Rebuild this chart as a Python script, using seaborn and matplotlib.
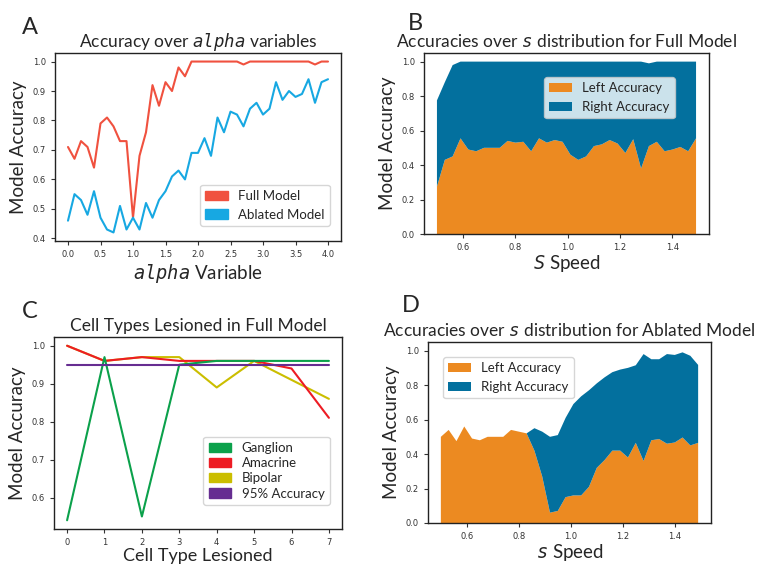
import numpy as np
import pandas as pd
import matplotlib
matplotlib.use("Agg")
import matplotlib.pyplot as plt
import seaborn as sns
from matplotlib.patches import Patch

# ---------------- data ----------------
alpha_x = np.round(np.arange(0, 4.01, 0.1), 1)
full_model = [0.71, 0.67, 0.73, 0.71, 0.64, 0.79, 0.81, 0.78, 0.73, 0.73,
              0.47, 0.68, 0.76, 0.92, 0.85, 0.93, 0.90, 0.98, 0.95, 1.0,
              1.0, 1.0, 1.0, 1.0, 1.0, 1.0, 1.0, 0.99, 1.0, 1.0,
              1.0, 1.0, 1.0, 1.0, 1.0, 1.0, 1.0, 1.0, 0.99, 1.0, 1.0]
ablated_model = [0.46, 0.55, 0.53, 0.48, 0.56, 0.47, 0.43, 0.42, 0.51, 0.43,
                 0.47, 0.43, 0.52, 0.47, 0.53, 0.56, 0.61, 0.63, 0.60, 0.69,
                 0.69, 0.74, 0.68, 0.81, 0.76, 0.83, 0.82, 0.78, 0.84, 0.86,
                 0.82, 0.84, 0.93, 0.87, 0.90, 0.88, 0.89, 0.94, 0.86, 0.93, 0.94]

speed_x = np.round(np.arange(0.5, 1.495, 0.03), 2)
full_left = [0.275, 0.43, 0.45, 0.555, 0.49, 0.48, 0.50, 0.50, 0.50, 0.54,
             0.53, 0.535, 0.48, 0.555, 0.53, 0.545, 0.535, 0.46, 0.43, 0.45,
             0.51, 0.52, 0.545, 0.525, 0.47, 0.55, 0.38, 0.51, 0.535, 0.48,
             0.49, 0.505, 0.48, 0.555]
full_right = [0.50, 0.45, 0.53, 0.445, 0.51, 0.52, 0.50, 0.50, 0.50, 0.46,
              0.47, 0.465, 0.52, 0.445, 0.47, 0.455, 0.465, 0.54, 0.57, 0.55,
              0.49, 0.48, 0.455, 0.475, 0.53, 0.45, 0.62, 0.48, 0.465, 0.52,
              0.51, 0.495, 0.52, 0.445]
abl_left = [0.50, 0.54, 0.475, 0.56, 0.49, 0.48, 0.50, 0.50, 0.50, 0.54,
            0.53, 0.52, 0.42, 0.27, 0.06, 0.07, 0.15, 0.16, 0.16, 0.21,
            0.32, 0.365, 0.42, 0.42, 0.38, 0.465, 0.36, 0.48, 0.487, 0.46,
            0.467, 0.496, 0.45, 0.465]
abl_right = [0.0, 0.0, 0.0, 0.0, 0.0, 0.0, 0.0, 0.0, 0.0, 0.0,
             0.0, 0.0, 0.13, 0.26, 0.44, 0.44, 0.46, 0.53, 0.575, 0.56,
             0.49, 0.48, 0.455, 0.47, 0.52, 0.45, 0.62, 0.47, 0.463, 0.52,
             0.508, 0.494, 0.52, 0.452]

cell_x = [0, 1, 2, 3, 4, 5, 6, 7]
ganglion = [0.54, 0.97, 0.55, 0.95, 0.96, 0.96, 0.96, 0.96]
amacrine = [1.0, 0.96, 0.97, 0.96, 0.96, 0.96, 0.94, 0.81]
bipolar = [1.0, 0.96, 0.97, 0.97, 0.89, 0.96, 0.91, 0.86]
acc95 = [0.95] * 8

# ---------------- style ----------------
sns.set_theme(style="ticks")
FONT = ["Lato", "DejaVu Sans"]
plt.rcParams["font.family"] = FONT
plt.rcParams["mathtext.fontset"] = "custom"
plt.rcParams["mathtext.it"] = "DejaVu Sans Mono:italic"
plt.rcParams["mathtext.rm"] = "Lato"
plt.rcParams["axes.edgecolor"] = "#222222"
plt.rcParams["axes.linewidth"] = 1.0

W, H = 762, 567
fig = plt.figure(figsize=(W / 100, H / 100), dpi=100)


def axes_px(l, t, r, b):
    return fig.add_axes([l / W, 1 - b / H, (r - l) / W, (b - t) / H])


def tick_style(ax):
    ax.tick_params(labelsize=6, colors="#333333", length=3, width=0.8)
    for lab in ax.get_xticklabels() + ax.get_yticklabels():
        lab.set_family("DejaVu Sans")


TITLE = 12.5
LABEL = 13.5
LEG = 9.5
HL = 1.7

RED = "#F0513F"
CYAN = "#17A8E2"
ORANGE = "#EC8A21"
DBLUE = "#03709E"

# ---- A ----
axA = axes_px(55, 53, 341, 241)
dfA = pd.DataFrame({"x": np.concatenate([alpha_x, alpha_x]),
                    "y": full_model + ablated_model,
                    "m": ["Full Model"] * len(alpha_x) + ["Ablated Model"] * len(alpha_x)})
sns.lineplot(data=dfA, x="x", y="y", hue="m", palette=[RED, CYAN], ax=axA,
             linewidth=1.5, legend=False)
axA.set_xticks([0.0, 0.5, 1.0, 1.5, 2.0, 2.5, 3.0, 3.5, 4.0])
axA.set_title(r"Accuracy over $alpha$ variables", fontsize=TITLE, pad=4)
axA.set_xlabel(r"$alpha$ Variable", fontsize=LABEL, labelpad=2)
axA.set_ylabel("Model Accuracy", fontsize=LABEL)
tick_style(axA)
axA.legend(handles=[Patch(color=RED, label="Full Model"), Patch(color=CYAN, label="Ablated Model")],
           loc="lower right", bbox_to_anchor=(0.9615, 0.08), borderaxespad=0,
           fontsize=LEG, handlelength=HL)

# ---- B ----
axB = axes_px(424, 53, 709, 234)
axB.stackplot(speed_x, full_left, full_right, colors=[ORANGE, DBLUE],
              labels=["Left Accuracy", "Right Accuracy"], linewidth=0, edgecolor="none")
axB.set_ylim(0, 1.05)
axB.set_title(r"Accuracies over $s$ distribution for Full Model", fontsize=TITLE, pad=4)
axB.set_xlabel(r"$S$ Speed", fontsize=LABEL, labelpad=1)
axB.set_ylabel("Model Accuracy", fontsize=LABEL)
tick_style(axB)
axB.legend(loc="upper left", bbox_to_anchor=(0.421, 0.867), borderaxespad=0,
           fontsize=LEG, handlelength=HL)

# ---- C ----
axC = axes_px(54, 337, 342, 529)
dfC = pd.DataFrame({"x": cell_x * 4,
                    "y": bipolar + amacrine + ganglion + acc95,
                    "t": ["Bipolar"] * 8 + ["Amacrine"] * 8 + ["Ganglion"] * 8 + ["95% Accuracy"] * 8})
CG, CR, CY, CP = "#0BA14B", "#ED1C24", "#CBBE00", "#662D91"
sns.lineplot(data=dfC, x="x", y="y", hue="t",
             palette={"Bipolar": CY, "Amacrine": CR, "Ganglion": CG, "95% Accuracy": CP},
             ax=axC, linewidth=1.5, legend=False)
axC.set_title("Cell Types Lesioned in Full Model", fontsize=TITLE, pad=4)
axC.set_xlabel("Cell Type Lesioned", fontsize=13, labelpad=1)
axC.set_ylabel("Model Accuracy", fontsize=LABEL)
tick_style(axC)
axC.legend(handles=[Patch(color=CG, label="Ganglion"), Patch(color=CR, label="Amacrine"),
                    Patch(color=CY, label="Bipolar"), Patch(color=CP, label="95% Accuracy")],
           loc="lower right", bbox_to_anchor=(0.958, 0.125), borderaxespad=0,
           fontsize=LEG, handlelength=HL, labelspacing=0.25)

# ---- D ----
axD = axes_px(428, 342, 711, 523)
axD.stackplot(speed_x, abl_left, abl_right, colors=[ORANGE, DBLUE],
              labels=["Left Accuracy", "Right Accuracy"], linewidth=0, edgecolor="none")
axD.set_ylim(0, 1.05)
axD.set_title(r"Accuracies over $s$ distribution for Ablated Model", fontsize=TITLE, pad=4)
axD.set_xlabel(r"$s$ Speed", fontsize=LABEL, labelpad=1)
axD.set_ylabel("Model Accuracy", fontsize=LABEL)
tick_style(axD)
axD.legend(loc="upper left", bbox_to_anchor=(0.053, 0.917), borderaxespad=0,
           fontsize=LEG, handlelength=HL)

# panel letters
for letter, x, y in [("A", 22, 34), ("B", 408, 30), ("C", 22, 318), ("D", 402, 312)]:
    fig.text(x / W, 1 - y / H, letter, fontsize=17, ha="left", va="baseline")

fig.savefig("out.png", dpi=100)
